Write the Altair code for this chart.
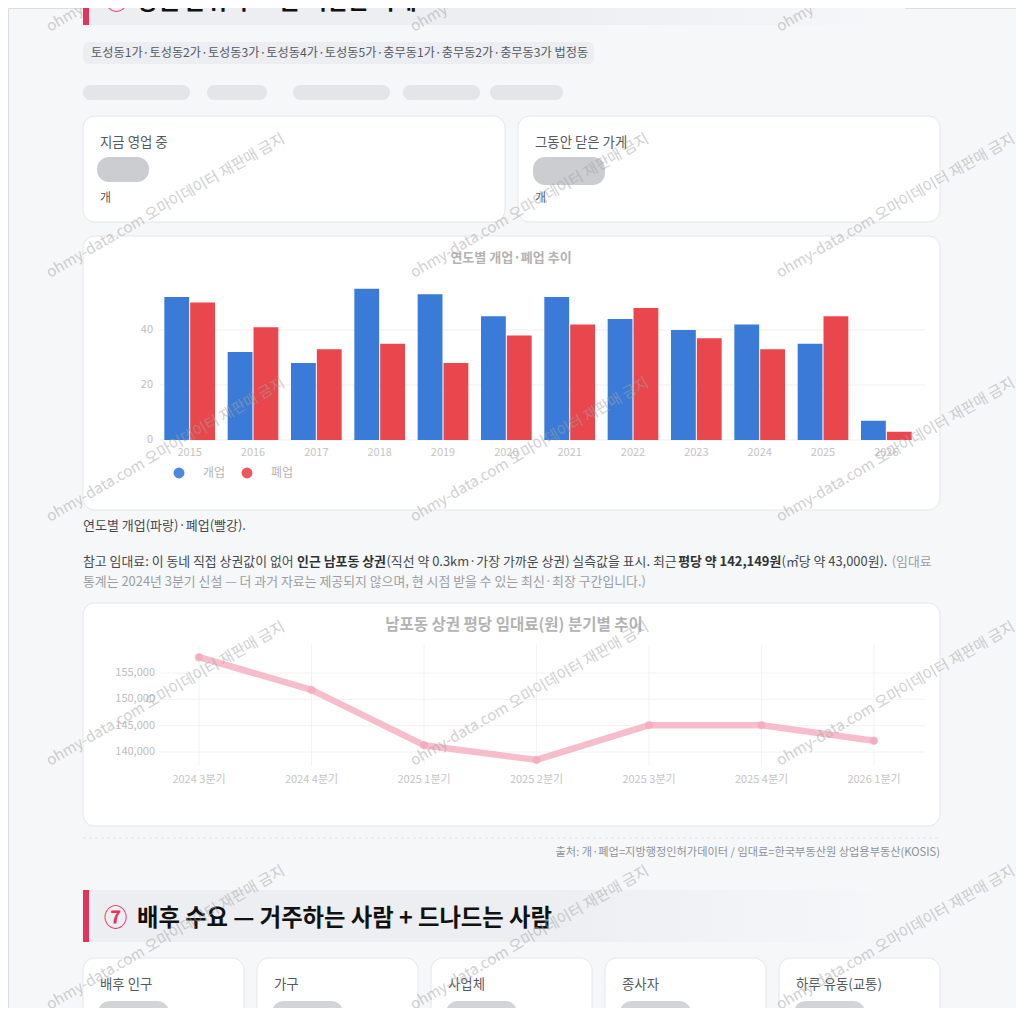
import altair as alt
import pandas as pd

FONT = "Noto Sans CJK KR"
OX, OY = 8, 8          # page margin: chart origin sits at page (8, 8)
W, H = 1008, 1000

BG = "#f6f7f9"
CARD = "#ffffff"
BORDER = "#e4e6ea"
BAND = "#eceef1"
ACCENT = "#e2345c"
BLUE = "#3a7bd8"
RED = "#e9464d"
PINK = "#f5b3c4"

# ---------------- data ----------------
years = ["2015", "2016", "2017", "2018", "2019", "2020",
         "2021", "2022", "2023", "2024", "2025", "2026"]
opened = [52, 32, 28, 55, 53, 45, 52, 44, 40, 42, 35, 7]
closed = [50, 41, 33, 35, 28, 38, 42, 48, 37, 33, 45, 3]
kinds = ["개업", "폐업"]
bar_ticks = [0, 20, 40]

quarters = ["2024 3분기", "2024 4분기", "2025 1분기", "2025 2분기",
            "2025 3분기", "2025 4분기", "2026 1분기"]
rent = [158000, 151800, 141300, 138500, 145100, 145100, 142149]
rent_ticks = [140000, 145000, 150000, 155000]

top_card_titles = ["지금 영업 중", "그동안 닫은 가게"]
bottom_card_titles = ["배후 인구", "가구", "사업체", "종사자", "하루 유동(교통)"]

tag_text = "토성동1가·토성동2가·토성동3가·토성동4가·토성동5가·충무동1가·충무동2가·충무동3가 법정동"
note_segments = [  # (text, bold, colour, extra gap after)
    ("참고 임대료: 이 동네 직접 상권값이 없어 ", False, "#45484d", 0.5),
    ("인근 남포동 상권", True, "#2f3236", 0.5),
    ("(직선 약 0.3km·가장 가까운 상권) 실측값을 표시. 최근 ", False, "#45484d", 3.0),
    ("평당 약 142,149원", True, "#2f3236", 2.5),
    ("(㎡당 약 43,000원). ", False, "#45484d", 0.5),
    ("(임대료", False, "#9a9ea4", 0.0),
]
note_line2 = "통계는 2024년 3분기 신설 — 더 과거 자료는 제공되지 않으며, 현 시점 받을 수 있는 최신·최장 구간입니다.)"
watermark = "ohmy-data.com 오마이데이터 재판매 금지"

# ---------------- helpers ----------------
one = pd.DataFrame({"k": [0]})


def P(x):
    return x - OX


def Q(y):
    return y - OY


def est_width(s, fs):
    """rough advance-width estimate (Noto Sans CJK KR) for placing inline runs"""
    w = 0.0
    for ch in s:
        if "\uac00" <= ch <= "\ud7a3":
            w += 0.92
        elif ch == " ":
            w += 0.224
        elif ch.isdigit():
            w += 0.57
        elif ch in ",.:·":
            w += 0.27
        elif ch in "()":
            w += 0.34
        elif ch == "㎡":
            w += 1.0
        elif ch == "m":
            w += 0.84
        else:
            w += 0.56
    return w * fs


def box(x1, y1, x2, y2, fill, stroke=None, r=0, opacity=1.0):
    kw = dict(fill=fill, cornerRadius=r, opacity=opacity)
    if stroke:
        kw.update(stroke=stroke, strokeWidth=1)
    return alt.Chart(one).mark_rect(**kw).encode(
        x=alt.value(P(x1)), x2=alt.value(P(x2)),
        y=alt.value(Q(y1)), y2=alt.value(Q(y2)))


def txt(x, y, s, size=13, color="#444444", weight="normal", align="left",
        baseline="middle", angle=0, opacity=1.0):
    return alt.Chart(one).mark_text(
        text=s, fontSize=size, color=color, fontWeight=weight, align=align,
        baseline=baseline, font=FONT, angle=angle, opacity=opacity).encode(
        x=alt.value(P(x)), y=alt.value(Q(y)))


def fade(c1, c2):
    return alt.LinearGradient(
        gradient="linear", x1=0, x2=1, y1=0, y2=0,
        stops=[alt.GradientStop(color=c1, offset=0),
               alt.GradientStop(color=c1, offset=0.55),
               alt.GradientStop(color=c2, offset=1)])


layers = []

# ---------------- section 6 header (cut off at top) ----------------
layers.append(box(83, -40, 905, 25, fade(BAND, BG)))
layers.append(box(83, -40, 89, 25, ACCENT))
layers.append(txt(105, 9, "⑥", 23, ACCENT, "bold", baseline="alphabetic"))
layers.append(txt(137, 9, "상권 분위기 — 문 여닫는 가게", 23, "#111111", "bold",
                  baseline="alphabetic"))

# tag pill
layers.append(box(83, 42, 594, 64, "#eceef2", r=6))
layers.append(txt(91, 53, tag_text, 12.2, "#555b63"))

# blurred subtitle line
for a, b in [(83, 190), (207, 267), (293, 390), (403, 480), (490, 563)]:
    layers.append(box(a, 85, b, 100, "#e4e5e8", r=8))

# top two cards
for (cx1, cx2), title in zip([(83, 505), (518, 940)], top_card_titles):
    layers.append(box(cx1, 116, cx2, 222, CARD, BORDER, r=12))
    layers.append(txt(cx1 + 17, 143, title, 13.4, "#555a60"))
    layers.append(txt(cx1 + 17, 198, "개", 12, "#555a60"))
layers.append(box(97, 157, 149, 182, "#b9bcc1", r=12, opacity=0.75))
layers.append(box(533, 157, 605, 185, "#b9bcc1", r=12, opacity=0.75))

# ---------------- bar chart card ----------------
layers.append(box(83, 236, 940, 510, CARD, BORDER, r=12))
layers.append(txt(511, 258, "연도별 개업·폐업 추이", 13, "#b3b3b3", "bold", align="center"))

bar_df = pd.DataFrame({"year": years * 2,
                       "kind": [kinds[0]] * len(years) + [kinds[1]] * len(years),
                       "count": opened + closed})
bx = alt.Scale(domain=years, range=[P(158), P(918)], paddingInner=0.2, paddingOuter=0.1)
by = alt.Scale(domain=[0, 60], range=[Q(440), Q(275)], nice=False, zero=True)
btick_df = pd.DataFrame({"v": bar_ticks})

bar_grid = alt.Chart(btick_df).mark_rule(color="#efefef", strokeWidth=1).encode(
    y=alt.Y("v:Q", scale=by, axis=None), x=alt.value(P(160)), x2=alt.value(P(925)))
bars = alt.Chart(bar_df).mark_bar().encode(
    x=alt.X("year:N", scale=bx, axis=None, sort=years),
    xOffset=alt.XOffset("kind:N", sort=kinds, scale=alt.Scale(paddingInner=0.04)),
    y=alt.Y("count:Q", scale=by, axis=None),
    color=alt.Color("kind:N", scale=alt.Scale(domain=kinds, range=[BLUE, RED]), legend=None))
bar_ylab = alt.Chart(btick_df).mark_text(
    align="right", baseline="middle", fontSize=11, color="#bdbdbd", font=FONT).encode(
    y=alt.Y("v:Q", scale=by, axis=None), x=alt.value(P(153)), text="v:Q")
bar_xlab = alt.Chart(pd.DataFrame({"year": years})).mark_text(
    align="center", baseline="middle", fontSize=11, color="#c4c4c4", font=FONT).encode(
    x=alt.X("year:N", scale=bx, axis=None, sort=years), y=alt.value(Q(453)), text="year:N")
bar_group = alt.layer(bar_grid, bars, bar_ylab, bar_xlab)
layers.append(bar_group)

# legend
for i, (k, c) in enumerate(zip(kinds, [BLUE, RED])):
    layers.append(alt.Chart(one).mark_circle(size=120, color=c, opacity=0.9).encode(
        x=alt.value(P(179 + 68 * i)), y=alt.value(Q(473))))
    layers.append(txt(203 + 68 * i, 473, k, 12, "#b5b5b5"))

# captions
NOTE_FS = 12.9
layers.append(txt(83, 526, "연도별 개업(파랑)·폐업(빨강).", 13, "#45484d"))
cx = 83.0
for seg, bold, col, gap in note_segments:
    layers.append(txt(cx, 562, seg, NOTE_FS, col, "bold" if bold else "normal"))
    cx += est_width(seg, NOTE_FS) + gap
layers.append(txt(83, 582, note_line2, NOTE_FS, "#9a9ea4"))

# ---------------- line chart card ----------------
layers.append(box(83, 603, 940, 826, CARD, BORDER, r=12))
layers.append(txt(514, 625, "남포동 상권 평당 임대료(원) 분기별 추이", 15.5, "#b3b3b3", "bold",
                  align="center"))

rent_df = pd.DataFrame({"q": quarters, "rent": rent})
lx = alt.Scale(type="point", domain=quarters, range=[P(199), P(874)], padding=0)
ly = alt.Scale(domain=[140000, 155000], range=[Q(752), Q(673)], nice=False, zero=False)
rtick_df = pd.DataFrame({"v": rent_ticks})

l_vgrid = alt.Chart(pd.DataFrame({"q": quarters})).mark_rule(color="#f2f2f2").encode(
    x=alt.X("q:N", scale=lx, axis=None, sort=quarters),
    y=alt.value(Q(645)), y2=alt.value(Q(766)))
l_hgrid = alt.Chart(rtick_df).mark_rule(color="#f2f2f2").encode(
    y=alt.Y("v:Q", scale=ly, axis=None), x=alt.value(P(160)), x2=alt.value(P(925)))
l_line = alt.Chart(rent_df).mark_line(
    color=PINK, strokeWidth=6.5, strokeCap="round", strokeJoin="round", opacity=0.85).encode(
    x=alt.X("q:N", scale=lx, axis=None, sort=quarters),
    y=alt.Y("rent:Q", scale=ly, axis=None))
l_pts = alt.Chart(rent_df).mark_circle(size=70, color="#f3a7ba", opacity=0.7).encode(
    x=alt.X("q:N", scale=lx, axis=None, sort=quarters),
    y=alt.Y("rent:Q", scale=ly, axis=None))
l_ylab = alt.Chart(rtick_df).mark_text(
    align="right", baseline="middle", fontSize=11, color="#bdbdbd", font=FONT).encode(
    y=alt.Y("v:Q", scale=ly, axis=None), x=alt.value(P(155)),
    text=alt.Text("v:Q", format=","))
l_xlab = alt.Chart(pd.DataFrame({"q": quarters})).mark_text(
    align="center", baseline="middle", fontSize=11, color="#c4c4c4", font=FONT).encode(
    x=alt.X("q:N", scale=lx, axis=None, sort=quarters), y=alt.value(Q(780)), text="q:N")
line_group = alt.layer(l_vgrid, l_hgrid, l_line, l_pts, l_ylab, l_xlab)
layers.append(line_group)

# source line
layers.append(alt.Chart(one).mark_rule(color="#e1e3e7", strokeDash=[3, 3]).encode(
    x=alt.value(P(83)), x2=alt.value(P(940)), y=alt.value(Q(838))))
layers.append(txt(940, 853, "출처: 개·폐업=지방행정인허가데이터 / 임대료=한국부동산원 상업용부동산(KOSIS)",
                  11.2, "#8e9297", align="right"))

# ---------------- section 7 header ----------------
layers.append(box(83, 890, 905, 942, fade(BAND, BG)))
layers.append(box(83, 890, 89, 942, ACCENT))
layers.append(txt(104, 926, "⑦", 23.3, ACCENT, "bold", baseline="alphabetic"))
layers.append(txt(137, 926, "배후 수요 — 거주하는 사람 + 드나드는 사람", 23.3, "#111111", "bold",
                  baseline="alphabetic"))

# bottom cards
for i, title in enumerate(bottom_card_titles):
    x1 = 83 + 174 * i
    layers.append(box(x1, 958, x1 + 161, 1040, CARD, BORDER, r=12))
    layers.append(txt(x1 + 17, 985, title, 13.4, "#555a60"))
    layers.append(box(x1 + 15, 1001, x1 + 86, 1024, "#bfc2c7", r=12, opacity=0.7))

# ---------------- watermark overlay ----------------
wm_cols = [50, 414, 780]
wm_rows = [32, 278, 522, 766, 1010]
wm_df = pd.DataFrame([{"x": P(cx_), "y": Q(ry)} for ry in wm_rows for cx_ in wm_cols])
layers.append(alt.Chart(wm_df).mark_text(
    text=watermark, fontSize=15, color="#a3a3a3", opacity=0.5, angle=330,
    align="left", baseline="alphabetic", font=FONT).encode(
    x=alt.X("x:Q", scale=None), y=alt.Y("y:Q", scale=None)))

chart = alt.layer(*layers).resolve_scale(
    x="independent", y="independent", color="independent"
).properties(
    width=W, height=H, background=BG, padding=0,
    autosize=alt.AutoSizeParams(type="none")
).configure_view(stroke=None).configure(font=FONT)

chart.save("out.html", embed_options={"renderer": "svg", "actions": False})
